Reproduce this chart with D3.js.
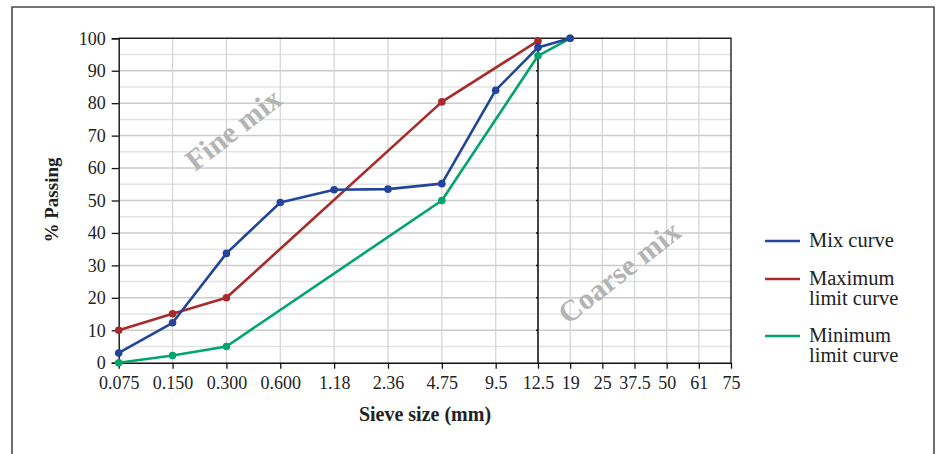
<!DOCTYPE html>
<html>
<head>
<meta charset="utf-8">
<script src="https://cdn.jsdelivr.net/npm/d3@7/dist/d3.min.js"></script>
<style>
  html, body { margin: 0; padding: 0; background: #fff; }
  svg { display: block; font-family: "Liberation Serif", "Times New Roman", serif; }
</style>
</head>
<body>
<svg id="chart" width="940" height="454"></svg>
<script>
"use strict";

// sieve sizes along the x axis (mm)
const sieveSizes = ["0.075", "0.150", "0.300", "0.600", "1.18", "2.36", "4.75",
                    "9.5", "12.5", "19", "25", "37.5", "50", "61", "75"];
const yTicks = [0, 10, 20, 30, 40, 50, 60, 70, 80, 90, 100];

// % passing for each curve
const mixSieves = ["0.075", "0.150", "0.300", "0.600", "1.18", "2.36", "4.75", "9.5", "12.5", "19"];
const mixPassing = [3, 12.3, 33.7, 49.4, 53.3, 53.5, 55.2, 84, 97.2, 100];

const maxSieves = ["0.075", "0.150", "0.300", "4.75", "12.5"];
const maxPassing = [10, 15.1, 20, 80.4, 99.2];

const minSieves = ["0.075", "0.150", "0.300", "4.75", "12.5", "19"];
const minPassing = [0, 2.2, 5, 50, 94.6, 100];

const legendNames = [["Mix curve"], ["Maximum", "limit curve"], ["Minimum", "limit curve"]];
const colors = ["#22449a", "#a82a2a", "#00a56e"];

const svg = d3.select("#chart");

// outer frame
svg.append("path")
    .attr("d", "M12,460 V7 H934 V460")
    .attr("fill", "none")
    .attr("stroke", "#4a4a4a")
    .attr("stroke-width", 1.6);

const plotLeft = 118.7, plotRight = 731, plotTop = 38.3, plotBottom = 362.7;

// the fine sieves are evenly spaced, the coarse ones sit closer together
const x = d3.scaleLinear()
    .domain([0, 7, 8, 14])
    .range([plotLeft, 495.7, 538, plotRight]);
const xPos = (s) => x(sieveSizes.indexOf(s));

const y = d3.scaleLinear().domain([0, 100]).range([plotBottom, plotTop]);

const grid = svg.append("g");

// horizontal grid every 5 %
grid.selectAll("line.h")
    .data(d3.range(5, 100, 5))
    .join("line")
    .attr("x1", plotLeft).attr("x2", plotRight)
    .attr("y1", (d) => y(d)).attr("y2", (d) => y(d))
    .attr("stroke", (d) => d % 10 === 0 ? "#cbcbcb" : "#e3e3e3")
    .attr("stroke-width", 1.5);

// vertical grid at each sieve
grid.selectAll("line.v")
    .data(d3.range(1, sieveSizes.length - 1))
    .join("line")
    .attr("x1", (d) => x(d)).attr("x2", (d) => x(d))
    .attr("y1", plotTop).attr("y2", plotBottom)
    .attr("stroke", "#d6d6d6")
    .attr("stroke-width", 1.3);

// watermarks
const marks = [["Fine mix", 233, 129], ["Coarse mix", 619, 272]];
svg.selectAll("text.mark")
    .data(marks)
    .join("text")
    .attr("transform", (d) => `translate(${d[1]},${d[2]}) rotate(-38)`)
    .attr("text-anchor", "middle")
    .attr("dy", "0.35em")
    .attr("font-size", 30)
    .attr("font-weight", "bold")
    .attr("fill", "#b4b4b4")
    .text((d) => d[0]);

// divider between fine and coarse
const xDiv = xPos("12.5");
svg.append("line")
    .attr("x1", xDiv).attr("x2", xDiv)
    .attr("y1", plotTop).attr("y2", plotBottom)
    .attr("stroke", "#111")
    .attr("stroke-width", 1.5);
svg.selectAll("line.divtick")
    .data(yTicks.slice(1, -1))
    .join("line")
    .attr("x1", xDiv - 2).attr("x2", xDiv)
    .attr("y1", (d) => y(d)).attr("y2", (d) => y(d))
    .attr("stroke", "#111")
    .attr("stroke-width", 1.5);

// plot border (top and right)
svg.append("path")
    .attr("d", `M${plotLeft},${plotTop} H${plotRight} V${plotBottom}`)
    .attr("fill", "none")
    .attr("stroke", "#222")
    .attr("stroke-width", 1.4);

// axes
const yAxis = d3.axisLeft(y).tickValues(yTicks).tickSize(7).tickPadding(6);
const gy = svg.append("g").attr("transform", `translate(${plotLeft},0)`).call(yAxis);
gy.select(".domain").attr("stroke", "#111").attr("stroke-width", 1.4);
gy.selectAll(".tick line").attr("stroke", "#111").attr("stroke-width", 1.3);
gy.selectAll(".tick text")
    .attr("font-family", "Liberation Serif, serif")
    .attr("font-size", 18)
    .attr("fill", "#222");

const xAxis = d3.axisBottom(x)
    .tickValues(d3.range(sieveSizes.length))
    .tickFormat((i) => sieveSizes[i])
    .tickSize(6).tickSizeOuter(0).tickPadding(8);
const gx = svg.append("g").attr("transform", `translate(0,${plotBottom})`).call(xAxis);
gx.select(".domain").attr("stroke", "#111").attr("stroke-width", 1.4);
gx.selectAll(".tick line").attr("stroke", "#111").attr("stroke-width", 1.3);
gx.selectAll(".tick text")
    .attr("font-family", "Liberation Serif, serif")
    .attr("font-size", 18)
    .attr("fill", "#222");

// axis titles
svg.append("text")
    .attr("x", 425).attr("y", 421)
    .attr("text-anchor", "middle")
    .attr("font-size", 20)
    .attr("font-weight", "bold")
    .attr("fill", "#222")
    .text("Sieve size (mm)");

svg.append("text")
    .attr("transform", "translate(58,200) rotate(-90)")
    .attr("text-anchor", "middle")
    .attr("font-size", 19)
    .attr("font-weight", "bold")
    .attr("fill", "#222")
    .text("% Passing");

// curves
const series = [
    { sieves: minSieves, values: minPassing, color: colors[2] },
    { sieves: maxSieves, values: maxPassing, color: colors[1] },
    { sieves: mixSieves, values: mixPassing, color: colors[0] }
];

const line = d3.line()
    .x((d) => xPos(d[0]))
    .y((d) => y(d[1]));

series.forEach((s) => {
    const pts = d3.zip(s.sieves, s.values);
    const g = svg.append("g");
    g.append("path")
        .attr("d", line(pts))
        .attr("fill", "none")
        .attr("stroke", s.color)
        .attr("stroke-width", 2.6)
        .attr("stroke-linejoin", "round");
    g.selectAll("circle")
        .data(pts)
        .join("circle")
        .attr("cx", (d) => xPos(d[0]))
        .attr("cy", (d) => y(d[1]))
        .attr("r", 3.8)
        .attr("fill", s.color);
});

// legend
const legendY = [241, 279, 336];
const legend = svg.selectAll("g.legend")
    .data(legendNames)
    .join("g")
    .attr("transform", (d, i) => `translate(765,${legendY[i]})`);
legend.append("line")
    .attr("x1", 0).attr("x2", 35)
    .attr("stroke", (d, i) => colors[i])
    .attr("stroke-width", 2.6);
legend.append("text")
    .attr("x", 44)
    .attr("font-size", 20.5)
    .attr("fill", "#222")
    .selectAll("tspan")
    .data((d) => d)
    .join("tspan")
    .attr("x", 44)
    .attr("y", (d, i) => 6 + i * 20)
    .text((d) => d);
</script>
</body>
</html>
